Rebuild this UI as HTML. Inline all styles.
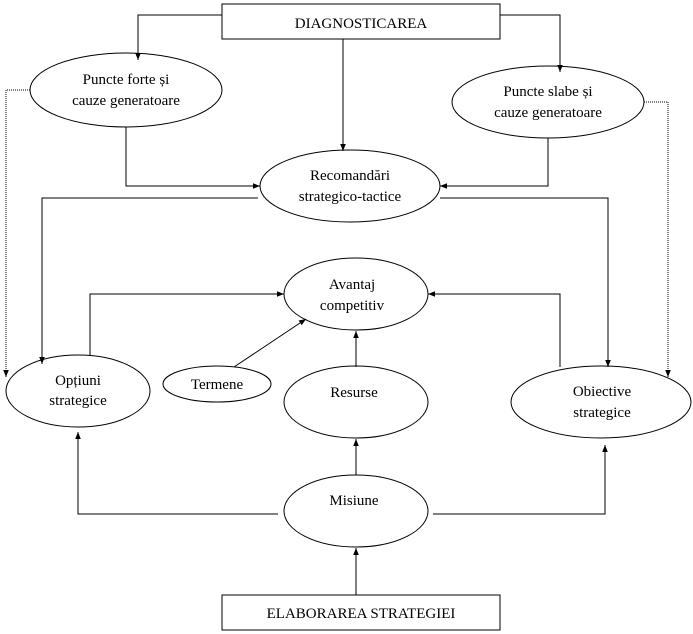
<!DOCTYPE html>
<html><head><meta charset="utf-8"><style>body{margin:0;background:#fff}svg{display:block}text{font-family:"Liberation Serif",serif;font-size:15px;fill:#000;text-anchor:middle}</style></head><body>
<svg width="693" height="634" viewBox="0 0 693 634" xmlns="http://www.w3.org/2000/svg">
<defs><marker id="a" viewBox="0 0 10 10" refX="10" refY="5" markerWidth="7" markerHeight="7" orient="auto"><path d="M0,1 L10,5 L0,9 z" fill="#000"/></marker></defs>
<g fill="none" stroke="#000" stroke-width="1">
<rect x="222" y="4" width="278" height="35" fill="#fff"/>
<rect x="222" y="595" width="278" height="35" fill="#fff"/>
<ellipse cx="126" cy="90" rx="96" ry="37"/>
<ellipse cx="548" cy="102" rx="96" ry="36"/>
<ellipse cx="350" cy="186" rx="90" ry="36"/>
<ellipse cx="356" cy="294" rx="72" ry="36"/>
<ellipse cx="78" cy="391" rx="72" ry="36"/>
<ellipse cx="217" cy="384" rx="54" ry="18"/>
<ellipse cx="356" cy="402" rx="72" ry="36"/>
<ellipse cx="601" cy="402" rx="90" ry="36"/>
<ellipse cx="356" cy="511" rx="72" ry="36"/>
<polyline points="222,15 138,15 138,60" marker-end="url(#a)"/>
<polyline points="500,15 560,15 560,72" marker-end="url(#a)"/>
<line x1="343" y1="39" x2="343" y2="151" marker-end="url(#a)"/>
<polyline points="126,127 126,186 260,186" marker-end="url(#a)"/>
<polyline points="548,138 548,186 440,186" marker-end="url(#a)"/>
<polyline points="258,198 42,198 42,364" marker-end="url(#a)"/>
<polyline points="440,198 608,198 608,367" marker-end="url(#a)"/>
<polyline points="90,355 90,294 284,294" marker-end="url(#a)"/>
<polyline points="560,367 560,294 428,294" marker-end="url(#a)"/>
<line x1="234" y1="367" x2="306" y2="319" marker-end="url(#a)"/>
<line x1="356" y1="367" x2="356" y2="331" marker-end="url(#a)"/>
<line x1="356" y1="475" x2="356" y2="439" marker-end="url(#a)"/>
<polyline points="278,514 78,514 78,432" marker-end="url(#a)"/>
<polyline points="433,514 605,514 605,445" marker-end="url(#a)"/>
<line x1="356" y1="595" x2="356" y2="548" marker-end="url(#a)"/>
<polyline points="30,90 6,90 6,377" stroke-dasharray="1,1" marker-end="url(#a)"/>
<polyline points="644,102 668,102 668,377" stroke-dasharray="1,1" marker-end="url(#a)"/>
</g>
<text x="361" y="28">DIAGNOSTICAREA</text>
<text x="361" y="618">ELABORAREA STRATEGIEI</text>
<text x="126" y="84">Puncte forte și</text>
<text x="126" y="105">cauze generatoare</text>
<text x="548" y="96">Puncte slabe și</text>
<text x="548" y="117">cauze generatoare</text>
<text x="350" y="180">Recomandări</text>
<text x="350" y="201">strategico-tactice</text>
<text x="352" y="289">Avantaj</text>
<text x="352" y="310">competitiv</text>
<text x="78" y="385">Opțiuni</text>
<text x="78" y="405">strategice</text>
<text x="217" y="389">Termene</text>
<text x="354" y="397">Resurse</text>
<text x="602" y="396">Obiective</text>
<text x="602" y="417">strategice</text>
<text x="354" y="505">Misiune</text>
</svg>
</body></html>
